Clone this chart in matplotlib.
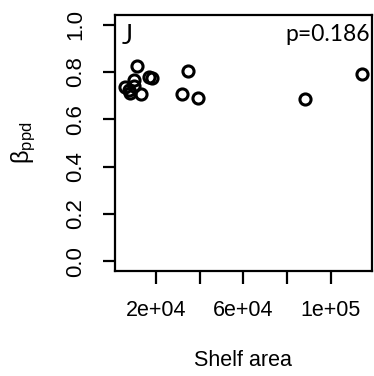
import matplotlib
matplotlib.use('Agg')
import matplotlib.pyplot as plt

# values
shelf_area = [11360, 16640, 18180, 9820, 5590, 7550, 8320, 9820, 13180,
              34800, 31950, 39090, 88300, 114360]
beta_ppd = [0.825, 0.778, 0.775, 0.765, 0.735, 0.725, 0.712, 0.742, 0.705,
            0.804, 0.706, 0.690, 0.685, 0.790]
x_ticks = [2e4, 4e4, 6e4, 8e4, 1e5]
x_ticklabels = ['2e+04', '', '6e+04', '', '1e+05']
y_ticks = [0.0, 0.2, 0.4, 0.6, 0.8, 1.0]
y_ticklabels = ['0.0', '0.2', '0.4', '0.6', '0.8', '1.0']

plt.rcParams['font.family'] = ['Liberation Sans', 'DejaVu Sans']
plt.rcParams['mathtext.fontset'] = 'custom'
plt.rcParams['mathtext.rm'] = 'Liberation Sans'

fig = plt.figure(figsize=(3.74, 3.76), dpi=100)
ax = fig.add_axes([0.3075, 0.28, 0.6863, 0.68])

ax.plot(shelf_area, beta_ppd, 'o', mfc='none', mec='black', ms=8, mew=2.2)

# R-style 4% padding
xmin, xmax = min(shelf_area), max(shelf_area)
pad = 0.04 * (xmax - xmin)
ax.set_xlim(xmin - pad, xmax + pad)
ax.set_ylim(-0.04, 1.04)

ax.set_xticks(x_ticks)
ax.set_xticklabels(x_ticklabels, fontsize=15.5)
ax.set_yticks(y_ticks)
ax.set_yticklabels(y_ticklabels, fontsize=16, rotation=90, va='center')
ax.tick_params(length=9, width=1.6, pad=12, direction='out')

for s in ax.spines.values():
    s.set_linewidth(1.6)

ax.set_xlabel('Shelf area', fontsize=15.5, labelpad=21)
ax.set_ylabel(r'$\mathrm{\beta_{ppd}}$', fontsize=17, labelpad=19)

ax.text(0.025, 0.965, 'J', transform=ax.transAxes, fontsize=19,
        family='Lato', va='top', ha='left')
ax.text(0.995, 0.965, 'p=0.186', transform=ax.transAxes, fontsize=16.5,
        family='Lato', va='top', ha='right')

fig.savefig('out.png', dpi=100)
